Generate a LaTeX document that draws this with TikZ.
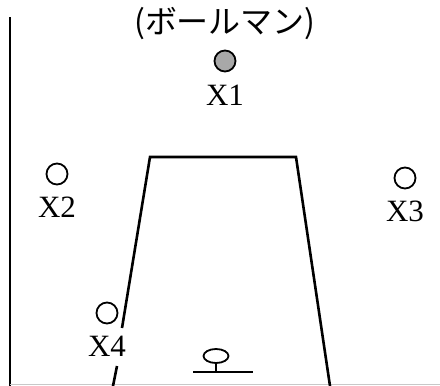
\documentclass[tikz,border=0pt]{standalone}
\usepackage{fontspec}
\setmainfont{Liberation Serif}
\newfontfamily\jpfont{Noto Sans CJK JP}
\usetikzlibrary{positioning, calc}
\definecolor{ballgray}{HTML}{A8A8A8}
\definecolor{floorgray}{HTML}{C8C8C8}

\begin{document}
\begin{tikzpicture}[x=1pt, y=-1pt,
    player/.style={circle, draw, line width=1.8pt, minimum size=21pt, inner sep=0pt},
    tag/.style={font=\fontsize{31}{31}\selectfont, inner sep=0pt},
    court/.style={line width=2.6pt}]
  \useasboundingbox (0,0) rectangle (440,386);
  % court lines
  \draw[court] (10,17) -- (10,386);
  \draw[floorgray, line width=1.2pt] (10,384.5) -- (440,384.5);
  \draw[court, line join=miter] (122,328) -- (150,157) -- (296,157) -- (330,386);
  \draw[court] (117,366) -- (113,386);
  % players
  \node[font=\jpfont\fontsize{32}{32}\selectfont, inner sep=0pt] (title) at (225,24) {(ボールマン)};
  \node[player, fill=ballgray] (x1) at (225,61) {};
  \node[tag, below=12pt of x1] (x1tag) {X1};
  \node[player] (x2) at (57,174) {};
  \node[tag, below=11pt of x2] (x2tag) {X2};
  \node[player] (x3) at (405,178) {};
  \node[tag, below=11pt of x3] (x3tag) {X3};
  \node[player] (x4) at (107,313) {};
  \node[tag, below=11pt of x4] (x4tag) {X4};
  % cone
  \coordinate (cone) at (216,356);
  \draw[line width=1.8pt] (cone) ellipse (12.5 and 7);
  \draw[line width=1.8pt] ($(cone)+(0,7)$) -- ($(cone)+(0,16)$);
  \draw[line width=1.8pt] ($(cone)+(-23,16)$) -- ($(cone)+(37,16)$);
\end{tikzpicture}
\end{document}
